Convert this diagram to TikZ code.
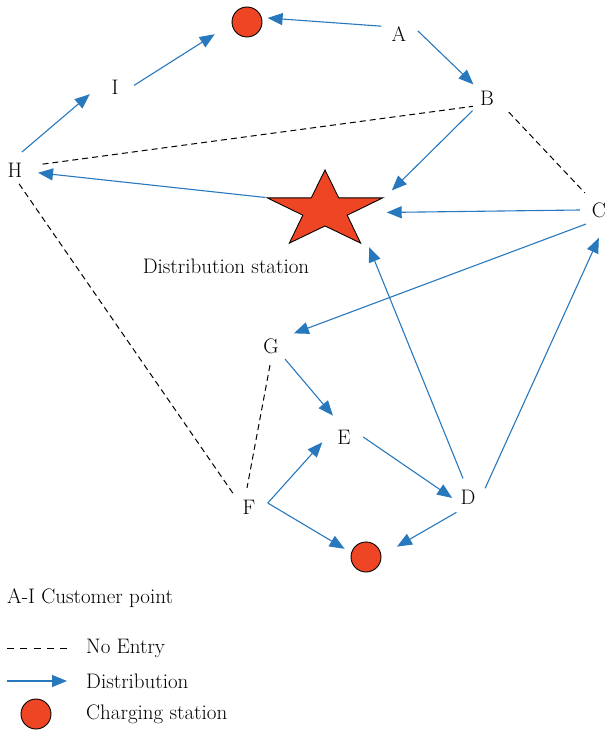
\documentclass[tikz,border=0pt]{standalone}
\usepackage{tikz}
\usetikzlibrary{arrows.meta,shapes.geometric}
\definecolor{routeblue}{RGB}{40,120,190}
\definecolor{chgred}{RGB}{238,70,36}

\begin{document}
\begin{tikzpicture}
	  [x=1pt,y=-1pt,every node/.style={font=\fontsize{21}{25}\selectfont},
	   pt/.style={circle,minimum size=38pt,inner sep=0pt},
	   chg/.style={circle,draw=black,line width=0.9pt,fill=chgred,minimum size=30pt,inner sep=0pt,outer sep=6pt},
	   route/.style={draw=routeblue,line width=1.1pt,-{Triangle[length=15pt,width=12pt]}},
	   noentry/.style={draw=black,line width=1pt,dash pattern=on 6pt off 4pt},
	   txt/.style={anchor=west,inner sep=0pt}]
	  \useasboundingbox (0,0) rectangle (608,730);

	  % customer points
	  \node[pt] (A) at (399,34)  {A};
	  \node[pt] (B) at (487,98)  {B};
	  \node[pt] (C) at (599,210) {C};
	  \node[pt] (D) at (468,497) {D};
	  \node[pt] (E) at (344,437) {E};
	  \node[pt] (F) at (249,507) {F};
	  \node[pt] (G) at (271,346) {G};
	  \node[pt] (H) at (15,170)  {H};
	  \node[pt] (I) at (115,87)  {I};

	  % charging stations and distribution station
	  \node[chg] (c1) at (247,22) {};
	  \node[chg] (c2) at (366,557) {};
	  \node[star,star points=5,star point ratio=2.6,minimum size=80.8pt,inner sep=0pt,
	        xscale=1.5,draw=black,line width=0.9pt,fill=chgred] (dc) at (325,210.4) {};
	  \node (dclbl) at (226,266) {Distribution station};

	  % distribution routes
	  \draw[route] (A.156) -- (c1.11);
	  \draw[route] (A.9) -- (B.135);
	  \draw[route,shorten >=14pt] (I.5) -- (c1.193);
	  \draw[route,shorten >=8pt] (H.69) -- (I.186);
	  \draw[route,shorten >=4pt] (dc.outer point 2) -- (H.-7);
	  \draw[route,shorten >=10pt] (B.221) -- (dc.outer point 5);
	  \draw[route,shorten >=2pt] (C.180) -- ([yshift=-15pt]dc.outer point 5);
	  \draw[route,shorten >=7pt] (C.227) -- (G.32);
	  \draw[route,shorten >=5pt] (G.-43) -- (E.114);
	  \draw[route,shorten >=-4pt] (E.0) -- (D.176);
	  \draw[route,shorten >=3pt] (D.105) -- ([xshift=6pt]dc.outer point 4);
	  \draw[route,shorten >=10pt] (D.27) -- (C.-78);
	  \draw[route,shorten >=12pt] (D.233) -- (c2.12);
	  \draw[route,shorten >=4pt] (F.12) -- (E.187);
	  \draw[route,shorten >=2pt] (F.12) -- (c2.160);

	  % no entry
	  \draw[noentry,shorten <=9pt,shorten >=-3pt] (H.14) -- (B.207);
	  \draw[noentry,shorten <=7pt,shorten >=3pt] (B.-28) -- (C.129);
	  \draw[noentry,shorten <=-5pt] (H.-69) -- (F.141);
	  \draw[noentry] (G.-93) -- (F.96);

	  % legend
	  \node[txt] (lg0) at (7,598) {A-I Customer point};
	  \coordinate (ne1) at (7,648);
	  \coordinate (ne2) at (67,648);
	  \draw[noentry,dash pattern=on 7pt off 6.3pt] (ne1) -- (ne2);
	  \node[txt] (lg1) at (86,648) {No Entry};
	  \coordinate (rt1) at (7,681);
	  \coordinate (rt2) at (67,681);
	  \draw[route] (rt1) -- (rt2);
	  \node[txt] (lg2) at (86,681) {Distribution};
	  \node[chg] (c3) at (36,714) {};
	  \node[txt] (lg3) at (86,714) {Charging station};
	\end{tikzpicture}
\end{document}
